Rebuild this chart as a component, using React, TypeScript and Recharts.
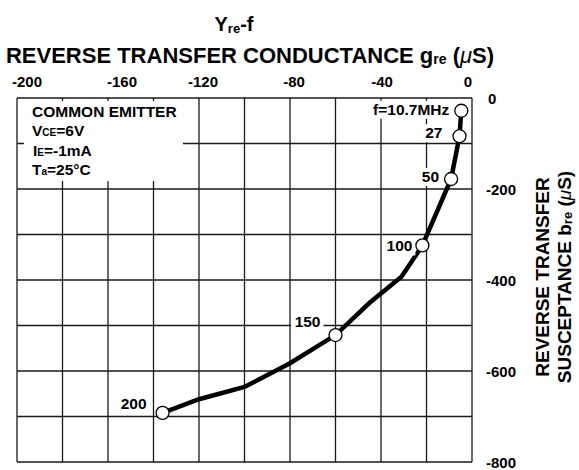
import React from "react";
import { LineChart, Line, XAxis, YAxis, CartesianGrid } from "recharts";

const FONT = "'Liberation Sans', Arial, Helvetica, sans-serif";

// curve vertices, in frequency order (labels only on the marked points)
const freqLabels = ["f=10.7MHz", "27", "50", "100", "", "", "150", "", "", "", "200"];
const gre = [-4.7, -5.5, -9.2, -21.8, -31, -45, -60, -80, -100, -120, -136];
const bre = [-28, -84, -178, -324, -393, -450, -521, -583, -635, -662, -692];

const xTicks = [-200, -180, -160, -140, -120, -100, -80, -60, -40, -20, 0];
const yTicks = [-800, -700, -600, -500, -400, -300, -200, -100, 0];

const data = gre.map((g, i) => ({ g, b: bre[i], f: freqLabels[i] }));

// small hand placement of the top tick labels, like the original sheet
const xLabelShift: Record<number, number> = { [-200]: 10, [-160]: 14, [-120]: 4, [-80]: 4, [-40]: 1, [0]: -4 };

// where each frequency label sits, relative to its point (text end / baseline)
const labelPos: Record<string, { dx: number; dy: number }> = {
  "f=10.7MHz": { dx: -12, dy: 4 },
  "27": { dx: -17, dy: 2 },
  "50": { dx: -12, dy: 3 },
  "100": { dx: -10, dy: 6 },
  "150": { dx: -15, dy: -8 },
  "200": { dx: -16, dy: -4 },
};

const XTick = (props: any) => {
  const { x, payload } = props;
  const v = payload.value;
  if (v % 40 !== 0) return <g />;
  return (
    <text x={x + (xLabelShift[v] ?? 0)} y={87} textAnchor="middle" fontFamily={FONT} fontWeight="bold" fontSize={15} fill="#000">
      {v}
    </text>
  );
};

const YTick = (props: any) => {
  const { y, payload } = props;
  const v = payload.value;
  if (v % 200 !== 0) return <g />;
  return (
    <text x={v === 0 ? 488 : 486} y={y + 6} textAnchor="start" fontFamily={FONT} fontWeight="bold" fontSize={15} fill="#000">
      {v}
    </text>
  );
};

const FreqDot = (props: any) => {
  const { cx, cy, payload, index } = props;
  if (!payload.f) return <g key={index} />;
  const p = labelPos[payload.f];
  const tx = cx + p.dx;
  const ty = cy + p.dy;
  const w = payload.f.length * 8.8;
  return (
    <g key={index}>
      <rect x={tx - w - 3} y={ty - 14} width={w + 6} height={18} fill="#fff" />
      <text x={tx} y={ty} textAnchor="end" fontFamily={FONT} fontWeight="bold" fontSize={15.5} fill="#000">
        {payload.f}
      </text>
      <circle cx={cx} cy={cy} r={6.5} fill="#fff" stroke="#000" strokeWidth={1.3} />
    </g>
  );
};

export default function App() {
  return (
    <div style={{ position: "absolute", left: 0, top: 0, width: 579, height: 470, background: "#fff" }}>
      <LineChart width={579} height={470} data={data} margin={{ top: 78, right: 77, bottom: 8, left: 17 }}>
        <CartesianGrid stroke="#1a1a1a" strokeWidth={1.3} />
        <XAxis
          type="number"
          dataKey="g"
          orientation="top"
          domain={[-200, 0]}
          ticks={xTicks}
          interval={0}
          height={20}
          axisLine={false}
          tickLine={false}
          tick={XTick}
        />
        <YAxis
          type="number"
          orientation="right"
          domain={[-800, 0]}
          ticks={yTicks}
          interval={0}
          width={30}
          axisLine={false}
          tickLine={false}
          tick={YTick}
        />
        <Line
          type="linear"
          dataKey="b"
          stroke="#000"
          strokeWidth={4.5}
          dot={(p: any) => <FreqDot {...p} />}
          activeDot={false}
          isAnimationActive={false}
        />
      </LineChart>

      <svg width={579} height={470} style={{ position: "absolute", left: 0, top: 0, pointerEvents: "none" }}>
        <g fontFamily={FONT} fontWeight="bold" fill="#000">
          <text x={234} y={31} textAnchor="middle" fontSize={20}>
            Y<tspan fontSize={13} dy={2}>re</tspan>
            <tspan dy={-2}>-f</tspan>
          </text>
          <text x={250} y={63} textAnchor="middle" fontSize={22}>
            REVERSE TRANSFER CONDUCTANCE g<tspan fontSize={14} dy={1}>re</tspan>
            <tspan dy={-1}> (</tspan>
            <tspan fontStyle="italic" fontWeight="normal">μ</tspan>S)
          </text>

          <g transform="translate(549 277) rotate(-90)">
            <text x={0} y={0} textAnchor="middle" fontSize={19}>REVERSE TRANSFER</text>
            <text x={0} y={22} textAnchor="middle" fontSize={19}>
              SUSCEPTANCE b<tspan fontSize={13} dy={1}>re</tspan>
              <tspan dy={-1}> (</tspan>
              <tspan fontStyle="italic" fontWeight="normal">μ</tspan>S)
            </text>
          </g>

          <rect x={24} y={101} width={159} height={80} fill="#fff" />
          <text x={32} y={117} fontSize={15.5}>COMMON EMITTER</text>
          <text x={32} y={136} fontSize={15.5}>
            V<tspan fontSize={10}>CE</tspan>=6V
          </text>
          <text x={33} y={156} fontSize={15.5}>
            I<tspan fontSize={10}>E</tspan>=-1mA
          </text>
          <text x={32} y={175} fontSize={15.5}>
            T<tspan fontSize={10}>a</tspan>=25°C
          </text>
        </g>
      </svg>
    </div>
  );
}
